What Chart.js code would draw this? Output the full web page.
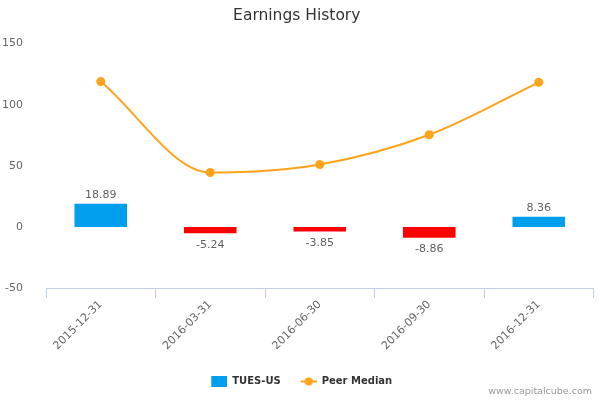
<!DOCTYPE html>
<html>
<head>
<meta charset="utf-8">
<script src="https://cdn.jsdelivr.net/npm/chart.js@4.4.0/dist/chart.umd.min.js"></script>
<style>
  body { margin: 0; background: #fff; }
  #wrap { width: 600px; height: 400px; }
</style>
</head>
<body>
<div id="wrap"><canvas id="chart" width="600" height="400"></canvas></div>
<script>
// data
const quarters = ['2015-12-31', '2016-03-31', '2016-06-30', '2016-09-30', '2016-12-31'];
const earnings = [18.89, -5.24, -3.85, -8.86, 8.36];
const peerMedian = [118.9, 44.5, 51.1, 75.4, 118.3];
const yTicks = [-50, 0, 50, 100, 150];

const BLUE = '#009FEE';
const RED = '#FF0000';
const ORANGE = '#FFA31A';
const FONT = '"DejaVu Sans", Arial, sans-serif';

// legend symbols as small canvases (box + line-with-dot)
function makeBoxSymbol() {
    const c = document.createElement('canvas');
    c.width = 26; c.height = 11;
    const g = c.getContext('2d');
    g.fillStyle = BLUE;
    g.fillRect(10, 0, 16, 11);
    return c;
}
function makeLineSymbol() {
    const c = document.createElement('canvas');
    c.width = 26; c.height = 11;
    const g = c.getContext('2d');
    g.strokeStyle = ORANGE;
    g.lineWidth = 2;
    g.beginPath();
    g.moveTo(10, 5.5);
    g.lineTo(26, 5.5);
    g.stroke();
    g.fillStyle = ORANGE;
    g.beginPath();
    g.arc(18, 5.5, 4, 0, Math.PI * 2);
    g.fill();
    return c;
}

// value labels above / below the bars
const barLabels = {
    id: 'barLabels',
    afterDatasetsDraw(chart) {
        const meta = chart.getDatasetMeta(0);
        const ctx = chart.ctx;
        ctx.save();
        ctx.font = '11px ' + FONT;
        ctx.fillStyle = '#606060';
        ctx.textAlign = 'center';
        ctx.textBaseline = 'middle';
        meta.data.forEach(function (bar, i) {
            const v = earnings[i];
            const y = v >= 0 ? bar.y - 8.5 : bar.y + 11.5;
            ctx.fillText(v.toFixed(2), bar.x, y);
        });
        ctx.restore();
    }
};

// site credit, bottom right
const credits = {
    id: 'credits',
    afterDraw(chart) {
        const ctx = chart.ctx;
        ctx.save();
        ctx.font = '9.5px ' + FONT;
        ctx.fillStyle = '#999999';
        ctx.textAlign = 'right';
        ctx.textBaseline = 'middle';
        ctx.fillText('www.capitalcube.com', 592, 392);
        ctx.restore();
    }
};

new Chart(document.getElementById('chart'), {
    type: 'bar',
    data: {
        labels: quarters,
        datasets: [{
            label: 'TUES-US',
            data: earnings,
            backgroundColor: earnings.map(v => v >= 0 ? BLUE : RED),
            borderWidth: 0,
            barPercentage: 0.48,
            categoryPercentage: 1
        }, {
            type: 'line',
            label: 'Peer Median',
            data: peerMedian,
            borderColor: ORANGE,
            backgroundColor: ORANGE,
            borderWidth: 2,
            pointRadius: 4.5,
            pointHoverRadius: 4.5,
            pointBorderWidth: 0,
            cubicInterpolationMode: 'monotone',
            fill: false
        }]
    },
    options: {
        responsive: false,
        animation: false,
        devicePixelRatio: 1,
        layout: { padding: { left: 0, right: 6.5, top: 0, bottom: 3.5 } },
        plugins: {
            title: {
                display: true,
                text: 'Earnings History',
                color: '#333333',
                font: { family: FONT, size: 15.5, weight: 'normal', lineHeight: 1.2 },
                padding: { top: 7, bottom: 18 }
            },
            legend: {
                position: 'bottom',
                labels: {
                    usePointStyle: true,
                    pointStyleWidth: 26,
                    boxHeight: 11,
                    padding: 10,
                    color: '#333333',
                    font: { family: FONT, size: 10, weight: 'bold' },
                    generateLabels: function () {
                        return [
                            { text: 'TUES-US', pointStyle: makeBoxSymbol(), fillStyle: BLUE, strokeStyle: BLUE, lineWidth: 0, hidden: false, datasetIndex: 0, fontColor: '#333333' },
                            { text: 'Peer Median', pointStyle: makeLineSymbol(), fillStyle: ORANGE, strokeStyle: ORANGE, lineWidth: 0, hidden: false, datasetIndex: 1, fontColor: '#333333' }
                        ];
                    }
                }
            },
            tooltip: { enabled: false }
        },
        scales: {
            x: {
                offset: true,
                grid: {
                    offset: true,
                    drawOnChartArea: false,
                    drawTicks: true,
                    tickLength: 10,
                    color: '#C0D0E0'
                },
                border: { display: true, color: '#C0D0E0' },
                ticks: {
                    color: '#666666',
                    font: { family: FONT, size: 11 },
                    minRotation: 45,
                    maxRotation: 45,
                    padding: 0
                },
                afterFit: function (scale) { scale.height = 78.5; }
            },
            y: {
                min: -50,
                max: 150,
                afterBuildTicks: function (scale) {
                    scale.ticks = yTicks.map(v => ({ value: v }));
                },
                grid: { display: false },
                border: { display: false },
                ticks: {
                    color: '#666666',
                    font: { family: FONT, size: 11 },
                    padding: 15
                },
                afterFit: function (scale) { scale.width = 46; }
            }
        }
    },
    plugins: [barLabels, credits]
});
</script>
</body>
</html>
